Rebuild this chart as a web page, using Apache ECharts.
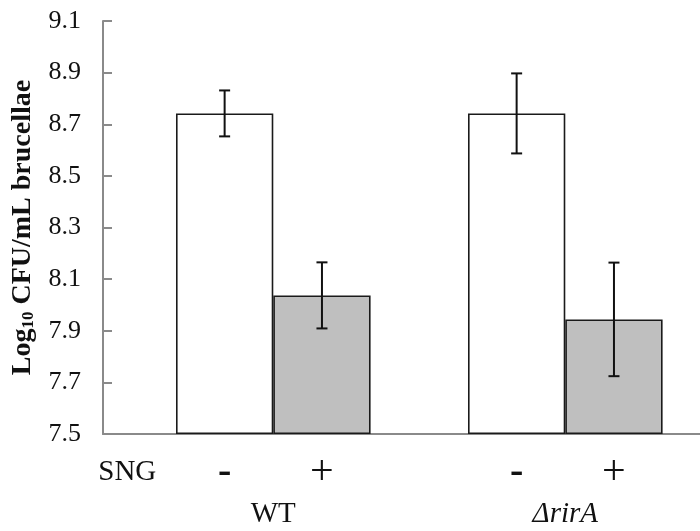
<!DOCTYPE html>
<html>
<head>
<meta charset="utf-8">
<script src="https://cdn.jsdelivr.net/npm/echarts@6/dist/echarts.min.js"></script>
<style>
html,body{margin:0;padding:0;background:#fff;}
#main{width:700px;height:531px;}
</style>
</head>
<body>
<div id="main"></div>
<script>
// ---- data ----
const groups = ['WT', 'ΔrirA'];
const treatmentName = 'SNG';
const treatments = ['-', '+'];
const meanNoSNG = [8.742, 8.742];
const errNoSNG = [0.089, 0.155];
const meanSNG = [8.037, 7.944];
const errSNG = [0.128, 0.22];
const yTicks = [7.5, 7.7, 7.9, 8.1, 8.3, 8.5, 8.7, 8.9, 9.1];

// ---- build ----
const half = 1 / 6; // half of the group width occupied by one bar, in x units
const groupX = groups.map((g, i) => i + 1);
const subLabels = [{ v: 0.5, t: treatmentName }];
groupX.forEach(x => {
  subLabels.push({ v: x - half, t: '{m|' + treatments[0] + '}' });
  subLabels.push({ v: x + half, t: '{p|' + treatments[1] + '}' });
});
const groupLabels = groupX.map((x, i) => ({ v: x, t: groups[i] }));
function lookup(list, v) {
  for (const o of list) if (Math.abs(o.v - v) < 1e-6) return o.t;
  return '';
}
const errData = [];
groupX.forEach((x, i) => {
  errData.push([x - half, meanNoSNG[i] - errNoSNG[i], meanNoSNG[i] + errNoSNG[i]]);
  errData.push([x + half, meanSNG[i] - errSNG[i], meanSNG[i] + errSNG[i]]);
});

const serif = 'Liberation Serif, Times New Roman, serif';
const xMin = 0.4168, xMax = 2.4613;

const chart = echarts.init(document.getElementById('main'), null, { renderer: 'canvas' });
chart.setOption({
  backgroundColor: '#ffffff',
  animation: false,
  grid: { left: 103, right: 0, top: 21, bottom: 97, containLabel: false },
  xAxis: [
    {
      type: 'value', min: xMin, max: xMax,
      splitLine: { show: false },
      axisTick: { show: false },
      axisLine: { show: true, lineStyle: { color: '#8a8a8a', width: 2 } },
      axisLabel: {
        show: true,
        customValues: subLabels.map(o => o.v),
        formatter: v => lookup(subLabels, v),
        margin: 24,
        fontFamily: serif, fontSize: 29, color: '#111', lineHeight: 29,
        rich: {
          m: { fontFamily: serif, fontSize: 40, fontWeight: 'bold', color: '#111', lineHeight: 29 },
          p: { fontFamily: serif, fontSize: 42, color: '#111', lineHeight: 29 }
        }
      }
    },
    {
      type: 'value', min: xMin, max: xMax, position: 'bottom',
      splitLine: { show: false },
      axisTick: { show: false },
      axisLine: { show: false },
      axisLabel: {
        show: true,
        customValues: groupLabels.map(o => o.v),
        formatter: v => {
          const t = lookup(groupLabels, v);
          return t === groups[1] ? '{i|' + t + '}' : t;
        },
        margin: 66,
        fontFamily: serif, fontSize: 29, color: '#111',
        rich: { i: { fontFamily: serif, fontSize: 29, fontStyle: 'italic', color: '#111' } }
      }
    }
  ],
  yAxis: {
    type: 'value', min: yTicks[0], max: yTicks[yTicks.length - 1], interval: 0.2,
    startValue: yTicks[0],
    splitLine: { show: false },
    axisLine: { show: true, lineStyle: { color: '#8a8a8a', width: 2 } },
    axisTick: { show: true, inside: true, length: 9, lineStyle: { color: '#8a8a8a', width: 2 } },
    axisLabel: {
      formatter: v => v.toFixed(1), margin: 22,
      fontFamily: serif, fontSize: 26, color: '#111'
    },
    name: '{a|Log}{b|10}{a| CFU/mL brucellae}',
    nameLocation: 'middle', nameRotate: 90, nameGap: 64,
    nameTextStyle: {
      rich: {
        a: { fontFamily: serif, fontSize: 28, fontWeight: 'bold', color: '#111', lineHeight: 30 },
        b: { fontFamily: serif, fontSize: 17, fontWeight: 'bold', color: '#111', verticalAlign: 'bottom', lineHeight: 17 }
      }
    }
  },
  series: [
    {
      name: 'no SNG', type: 'bar', xAxisIndex: 0,
      data: groupX.map((x, i) => [x, meanNoSNG[i]]),
      barWidth: 97.3, barGap: '0%',
      itemStyle: { color: '#ffffff', borderColor: '#1a1a1a', borderWidth: 1.6 }
    },
    {
      name: 'SNG', type: 'bar', xAxisIndex: 0,
      data: groupX.map((x, i) => [x, meanSNG[i]]),
      barWidth: 97.3, barGap: '0%',
      itemStyle: { color: '#bfbfbf', borderColor: '#1a1a1a', borderWidth: 1.6 }
    },
    {
      name: 'error', type: 'custom', xAxisIndex: 0, z: 10,
      data: errData,
      renderItem: (params, api) => {
        const lo = api.coord([api.value(0), api.value(1)]);
        const hi = api.coord([api.value(0), api.value(2)]);
        const cap = 5.5;
        const st = { stroke: '#111', lineWidth: 2 };
        return {
          type: 'group',
          children: [
            { type: 'line', shape: { x1: hi[0], y1: hi[1], x2: lo[0], y2: lo[1] }, style: st },
            { type: 'line', shape: { x1: hi[0] - cap, y1: hi[1], x2: hi[0] + cap, y2: hi[1] }, style: st },
            { type: 'line', shape: { x1: lo[0] - cap, y1: lo[1], x2: lo[0] + cap, y2: lo[1] }, style: st }
          ]
        };
      }
    }
  ]
});
</script>
</body>
</html>
